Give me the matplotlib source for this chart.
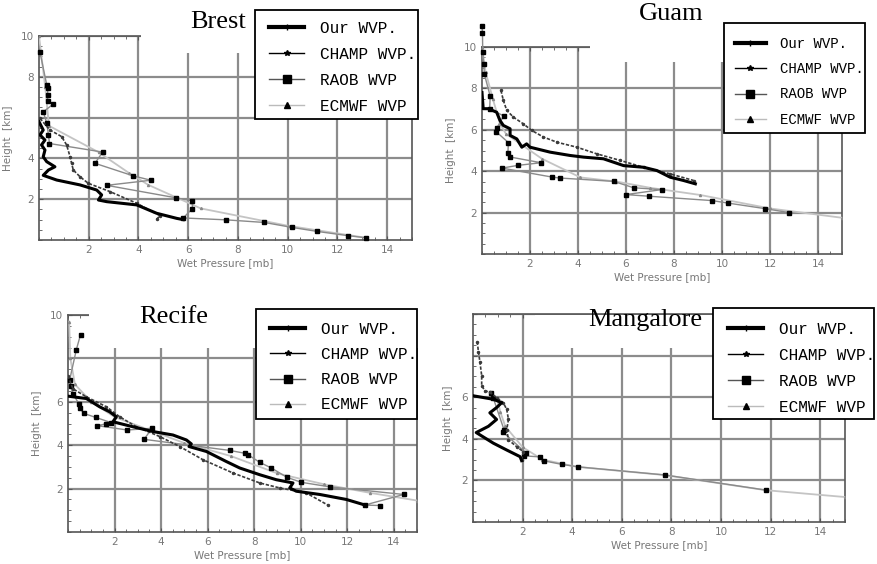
import matplotlib
matplotlib.use("Agg")
import matplotlib.pyplot as plt
from matplotlib.lines import Line2D
from matplotlib.patches import Rectangle
from matplotlib.ticker import MultipleLocator

# ---------------- Brest ----------------
brest_our_x = [0.0, 0.17, 0.04, 0.24, 0.1, 0.24, 0.17, 0.31, 0.64, 0.38, 0.17, 0.71, 1.65, 2.32, 2.52, 2.39, 2.72, 3.93, 4.73, 5.54, 5.8]
brest_our_y = [5.8, 5.39, 5.15, 4.9, 4.66, 4.41, 4.08, 3.84, 3.59, 3.43, 3.17, 2.94, 2.70, 2.45, 2.21, 1.96, 1.88, 1.72, 1.31, 1.06, 1.0]
brest_champ_x = [0.04, 0.44, 0.91, 1.11, 1.25, 1.31, 1.38, 1.65, 1.98, 2.86, 3.93, 4.87, 4.73]
brest_champ_y = [5.96, 5.39, 5.07, 4.66, 4.08, 3.76, 3.43, 3.1, 2.78, 2.37, 1.8, 1.19, 1.02]
brest_raob_x = [0.04, 0.31, 0.35, 0.35, 0.35, 0.58, 0.17, 0.31, 0.38, 0.42, 2.56, 2.25, 3.8, 4.5, 2.72, 5.5, 6.17, 6.17, 5.8, 7.5, 9.06, 10.16, 11.19, 12.44, 13.14]
brest_raob_y = [9.2, 7.61, 7.45, 7.12, 6.8, 6.67, 6.28, 5.74, 5.17, 4.73, 4.31, 3.76, 3.14, 2.93, 2.68, 2.07, 1.92, 1.54, 1.08, 0.99, 0.86, 0.62, 0.42, 0.21, 0.11]
brest_ecmwf_x = [0.0, 0.25, 0.4, 2.4, 3.6, 4.4, 6.5, 10.0, 13.2]
brest_ecmwf_y = [10.0, 7.5, 5.6, 4.3, 3.3, 2.7, 1.55, 0.7, 0.1]

# ---------------- Guam ----------------
guam_our_x = [0.0, 0.05, 0.26, 0.61, 0.75, 0.89, 1.17, 1.17, 1.45, 1.66, 1.86, 2.0, 2.84, 3.67, 4.23, 5.06, 5.9, 6.73, 7.29, 7.84, 8.4, 8.89]
guam_our_y = [7.8, 7.02, 7.02, 6.85, 6.45, 6.21, 6.05, 5.73, 5.56, 5.16, 5.32, 5.16, 4.92, 4.76, 4.68, 4.6, 4.27, 4.19, 4.03, 3.71, 3.55, 3.39]
guam_champ_x = [0.79, 0.89, 1.03, 1.31, 1.72, 2.07, 2.56, 3.12, 3.95, 4.78, 5.76, 6.73, 7.84, 8.82]
guam_champ_y = [7.9, 7.42, 6.94, 6.61, 6.29, 5.97, 5.65, 5.4, 5.16, 4.84, 4.52, 4.19, 3.87, 3.55]
guam_raob_x = [0.0, 0.02, 0.03, 0.07, 0.1, 0.34, 0.32, 0.9, 0.62, 0.6, 1.1, 1.08, 1.15, 2.46, 1.49, 0.83, 2.9, 3.24, 5.48, 6.32, 7.48, 6.0, 6.97, 9.59, 10.25, 11.8, 12.8]
guam_raob_y = [11.0, 10.7, 9.76, 9.2, 8.68, 7.63, 7.02, 6.67, 6.09, 5.9, 5.38, 4.9, 4.69, 4.41, 4.28, 4.15, 3.72, 3.67, 3.51, 3.2, 3.11, 2.87, 2.79, 2.58, 2.46, 2.19, 2.0]
guam_ecmwf_x = [0.0, 0.15, 0.45, 0.75, 1.0, 2.5, 4.1, 5.6, 7.0, 9.1, 12.0, 15.0]
guam_ecmwf_y = [10.0, 8.8, 7.5, 6.3, 5.8, 4.6, 3.7, 3.5, 3.2, 2.85, 2.2, 1.75]

# ---------------- Recife ----------------
recife_our_x = [0.0, 0.79, 1.36, 1.79, 2.08, 1.93, 2.79, 3.65, 4.51, 5.09, 5.3, 5.2, 5.95, 6.8, 7.38, 8.24, 8.95, 9.67, 9.53, 9.81, 10.82, 11.96, 12.68, 12.8]
recife_our_y = [6.26, 6.15, 5.77, 5.54, 5.31, 5.08, 4.85, 4.63, 4.47, 4.24, 4.06, 3.94, 3.71, 3.25, 2.95, 2.64, 2.41, 2.26, 2.03, 1.88, 1.73, 1.5, 1.27, 1.19]
recife_champ_x = [0.0, 0.21, 0.79, 1.65, 2.22, 2.94, 3.94, 4.8, 5.8, 7.09, 8.24, 9.1, 10.24, 11.17]
recife_champ_y = [7.2, 6.6, 6.23, 5.77, 5.31, 4.85, 4.4, 3.94, 3.33, 2.72, 2.26, 2.03, 1.8, 1.24]
recife_raob_x = [0.54, 0.36, 0.07, 0.11, 0.21, 0.46, 0.5, 0.67, 1.19, 1.86, 1.62, 1.26, 2.55, 3.61, 3.27, 6.95, 7.59, 7.74, 8.24, 8.74, 9.41, 10.03, 11.25, 14.43, 12.75, 13.42]
recife_raob_y = [9.1, 8.41, 7.0, 6.72, 6.38, 5.92, 5.73, 5.47, 5.28, 5.04, 4.98, 4.9, 4.7, 4.78, 4.27, 3.76, 3.63, 3.56, 3.21, 2.95, 2.52, 2.29, 2.08, 1.73, 1.24, 1.22]
recife_ecmwf_x = [0.05, 0.1, 0.3, 1.0, 2.0, 3.5, 5.0, 7.0, 9.0, 11.0, 13.0, 15.0]
recife_ecmwf_y = [9.7, 8.0, 6.8, 6.0, 5.3, 4.7, 4.1, 3.5, 2.7, 2.2, 1.8, 1.45]

# ---------------- Mangalore ----------------
mang_our_x = [0.0, 0.82, 1.16, 0.95, 0.68, 0.95, 0.62, 0.13, 0.82, 1.36, 1.9, 1.96]
mang_our_y = [6.07, 5.9, 5.74, 5.5, 5.25, 4.93, 4.6, 4.3, 3.79, 3.46, 3.14, 2.95]
mang_champ_x = [0.17, 0.22, 0.28, 0.35, 0.35, 0.48, 0.69, 0.95, 1.22, 1.36, 1.43, 1.36, 1.43, 1.76, 2.03, 1.96]
mang_champ_y = [8.67, 8.18, 7.69, 7.04, 6.55, 6.31, 6.23, 5.98, 5.74, 5.41, 4.93, 4.44, 3.95, 3.62, 3.38, 2.98]
mang_raob_x = [0.71, 0.82, 1.25, 1.22, 2.12, 2.06, 2.7, 2.86, 3.58, 4.25, 7.74, 11.83]
mang_raob_y = [6.19, 5.95, 4.44, 4.31, 3.34, 3.18, 3.13, 2.94, 2.77, 2.65, 2.26, 1.53]
mang_ecmwf_x = [0.95, 1.1, 1.3, 2.0, 2.8, 4.2, 7.7, 11.8, 15.0]
mang_ecmwf_y = [6.0, 5.3, 4.6, 3.6, 3.0, 2.65, 2.26, 1.53, 1.2]

x_ticks = [2, 4, 6, 8, 10, 12, 14]
y_ticks = [2, 4, 6, 8, 10]
legend_labels = ["Our WVP.", "CHAMP WVP.", "RAOB WVP", "ECMWF WVP"]

W, H = 877, 564
fig = plt.figure(figsize=(W / 100, H / 100), dpi=100)


def px(x, y):
    # pixel position of the reference -> figure fraction
    return x / W, 1 - y / H


def panel(rect, name, our, champ, raob, ecmwf, ylab, cover, title_at, box, legend_size, spacing, inset):
    ax = fig.add_axes(rect)
    ax.set_xlim(0, 15)
    ax.set_ylim(0, 10)
    ax.set_axisbelow(True)

    # gray grid like the scanned plots
    ax.set_xticks(x_ticks)
    ax.set_yticks(y_ticks)
    ax.set_yticklabels(ylab)
    ax.grid(True, color="#8c8c8c", lw=1.6)
    ax.xaxis.set_minor_locator(MultipleLocator(0.5))
    ax.yaxis.set_minor_locator(MultipleLocator(0.5))
    ax.tick_params(which="both", direction="in", top=True, color="#555555",
                   labelsize=7.5, labelcolor="#777777")
    ax.tick_params(which="major", length=3)
    ax.tick_params(which="minor", length=2)
    for s in ax.spines.values():
        s.set_color("#555555")
        s.set_linewidth(1.2)
    ax.set_xlabel("Wet Pressure [mb]", fontsize=7.5, color="#777777", labelpad=2)
    ax.set_ylabel("Height  [km]", fontsize=7.5, color="#777777", labelpad=6)

    # curves
    ax.plot(ecmwf[0], ecmwf[1], color="#c4c4c4", lw=1.3, marker="^", ms=1.5,
            mfc="#888888", mec="#888888", zorder=3)
    ax.plot(raob[0], raob[1], color="#8a8a8a", lw=1.0, marker="s", ms=3.4,
            mfc="black", mec="black", zorder=3.2, clip_on=False)
    ax.plot(champ[0], champ[1], color="#3a3a3a", lw=1.2, ls=(0, (2, 1)),
            marker=".", ms=3, zorder=3.4)
    ax.plot(our[0], our[1], color="black", lw=2.2, zorder=3.6)

    # white patch left where title and legend were pasted on
    ax.add_patch(Rectangle((cover[0], cover[1]), 15.35 - cover[0], 1.6,
                           facecolor="white", edgecolor="none",
                           zorder=2.7, clip_on=False))

    fig.text(*px(*title_at), name, ha="center", va="center",
             family="Liberation Serif", fontsize=19)

    # legend box (pixel rectangle of the reference)
    x0, y0, x1, y1 = box
    bx, by = px(x0, y1)
    ax.add_patch(Rectangle((bx, by), (x1 - x0) / W, (y1 - y0) / H,
                           transform=fig.transFigure, facecolor="white",
                           edgecolor="black", lw=1.3, zorder=9, clip_on=False))
    handles = [
        Line2D([], [], color="black", lw=3, marker="+", ms=4, mew=1),
        Line2D([], [], color="black", lw=1, marker="*", ms=4),
        Line2D([], [], color="#555555", lw=1, marker="s", ms=6, mfc="black", mec="black"),
        Line2D([], [], color="#bbbbbb", lw=1, marker="^", ms=5, mfc="black", mec="black"),
    ]
    leg = ax.legend(handles, legend_labels, loc="upper left",
                    bbox_to_anchor=px(x0 + inset[0], y0 + inset[1]),
                    bbox_transform=fig.transFigure,
                    prop={"family": "Liberation Mono", "size": legend_size},
                    frameon=False, borderpad=0, handlelength=2.2, handletextpad=1.0,
                    labelspacing=spacing, borderaxespad=0)
    leg.set_zorder(10)
    return ax


panel([39 / W, 1 - 240 / H, 373 / W, 204 / H], "Brest",
      (brest_our_x, brest_our_y), (brest_champ_x, brest_champ_y),
      (brest_raob_x, brest_raob_y), (brest_ecmwf_x, brest_ecmwf_y),
      ["2", "4", "", "8", "10"], (4.1, 9.17), (218, 22), (255, 10, 418, 119),
      11.5, 0.69, (14, 11))

panel([482 / W, 1 - 254 / H, 360 / W, 207 / H], "Guam",
      (guam_our_x, guam_our_y), (guam_champ_x, guam_champ_y),
      (guam_raob_x, guam_raob_y), (guam_ecmwf_x, guam_ecmwf_y),
      ["2", "4", "6", "8", "10"], (4.5, 9.27), (671, 14), (724, 23, 865, 133),
      10.1, 0.8, (11, 14))

panel([68 / W, 1 - 532 / H, 349 / W, 217 / H], "Recife",
      (recife_our_x, recife_our_y), (recife_champ_x, recife_champ_y),
      (recife_raob_x, recife_raob_y), (recife_ecmwf_x, recife_ecmwf_y),
      ["2", "4", "6", "", "10"], (0.9, 8.5), (174, 317), (256, 309, 417, 419),
      11.5, 0.63, (14, 13))

panel([473 / W, 1 - 522 / H, 372 / W, 208 / H], "Mangalore",
      (mang_our_x, mang_our_y), (mang_champ_x, mang_champ_y),
      (mang_raob_x, mang_raob_y), (mang_ecmwf_x, mang_ecmwf_y),
      ["2", "4", "6", "", ""], (2.5, 8.36), (645, 320), (713, 308, 874, 419),
      11.5, 0.69, (15, 14))

fig.savefig("out.png", dpi=100)
